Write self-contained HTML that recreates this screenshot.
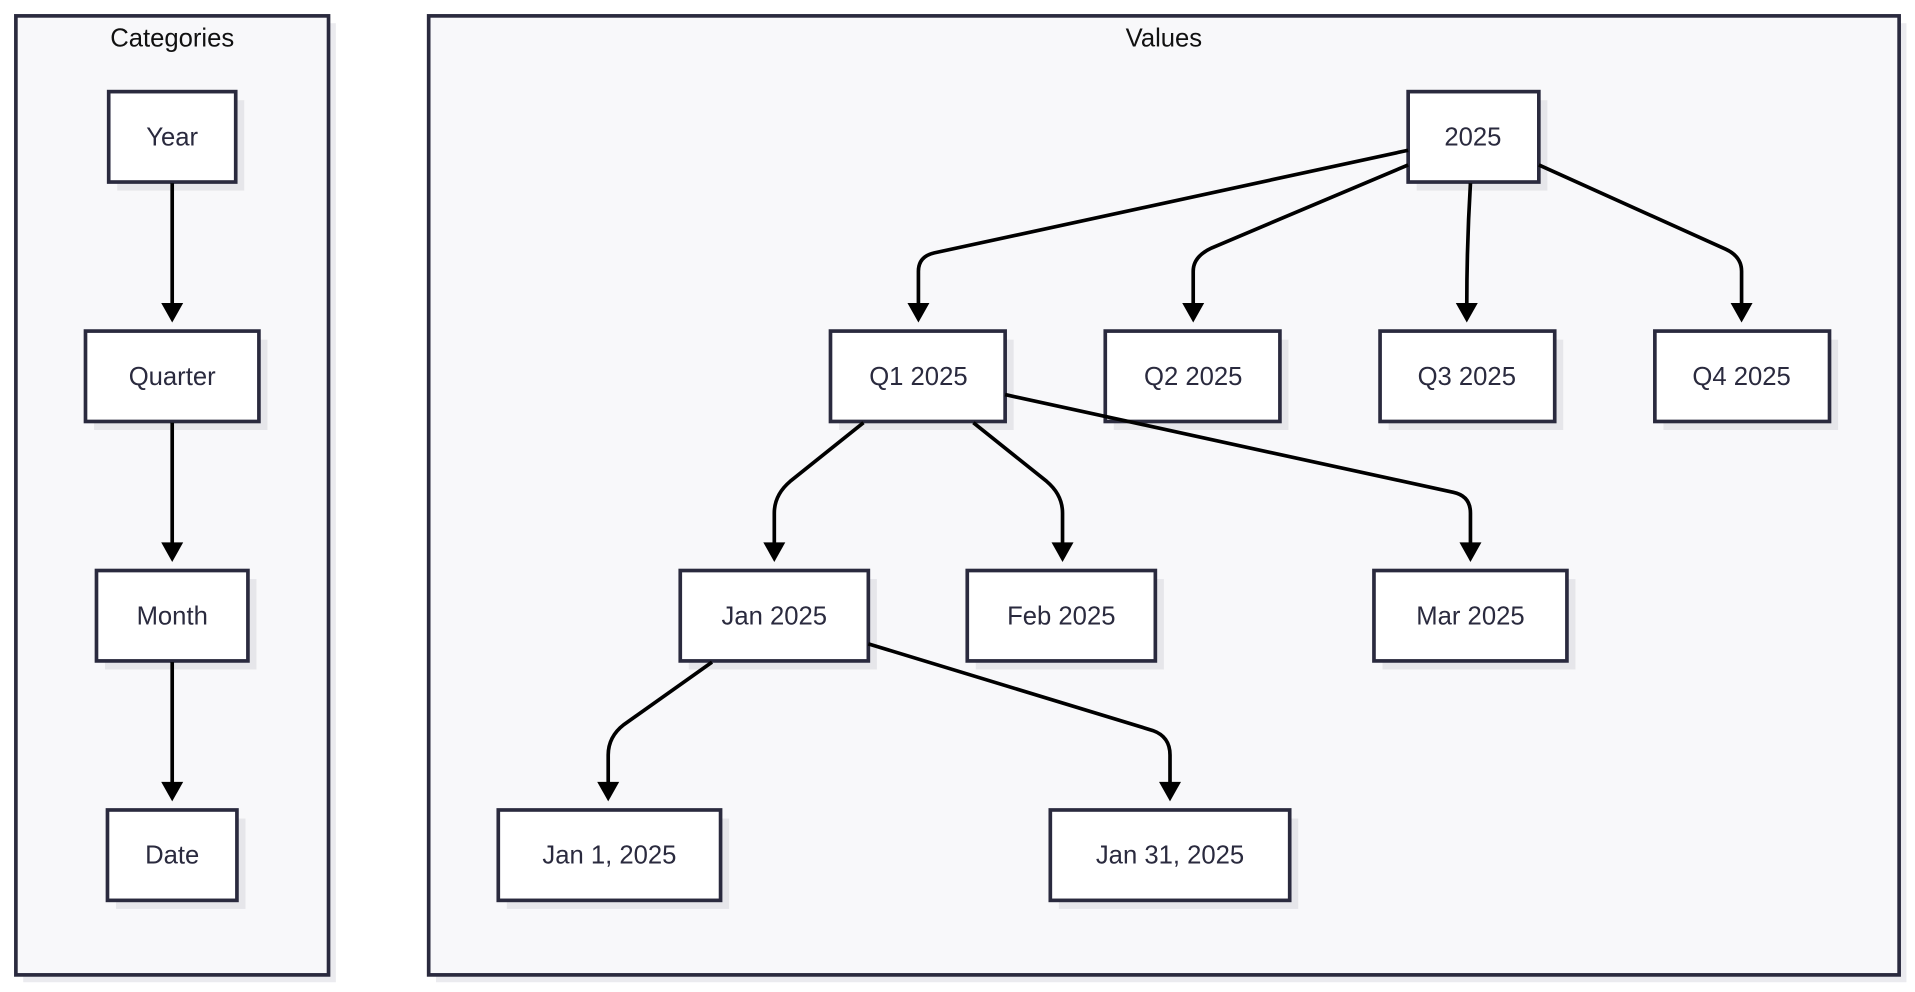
<!DOCTYPE html>
<html><head><meta charset="utf-8"><style>
html,body{margin:0;padding:0;background:#fff;}
svg{display:block;}
text{font-family:"Liberation Sans",sans-serif;}
</style></head><body>
<svg width="1915" height="992" viewBox="0 0 1568 812" preserveAspectRatio="none" xmlns="http://www.w3.org/2000/svg">
<rect x="19" y="19" width="256" height="785" fill="#ebebef"/>
<rect x="357" y="19" width="1204" height="785" fill="#ebebef"/>
<rect x="13" y="13" width="256" height="785" fill="#f8f8fa" stroke="#2a2a3e" stroke-width="3"/>
<rect x="351" y="13" width="1204" height="785" fill="#f8f8fa" stroke="#2a2a3e" stroke-width="3"/>
<text x="141" y="38" font-size="21" text-anchor="middle" fill="#111">Categories</text>
<text x="953" y="38" font-size="21" text-anchor="middle" fill="#111">Values</text>

<g fill="#e6e6ea">
<rect x="96" y="82" width="104" height="74"/>
<rect x="77" y="278" width="142" height="74"/>
<rect x="86" y="474" width="124" height="74"/>
<rect x="95" y="670" width="106" height="74"/>
<rect x="1160" y="82" width="107" height="74"/>
<rect x="687" y="278" width="143" height="74"/>
<rect x="912" y="278" width="143" height="74"/>
<rect x="1137" y="278" width="143" height="74"/>
<rect x="1362" y="278" width="143" height="74"/>
<rect x="564" y="474" width="154" height="74"/>
<rect x="799" y="474" width="154" height="74"/>
<rect x="1132" y="474" width="158" height="74"/>
<rect x="415" y="670" width="182" height="74"/>
<rect x="867" y="670" width="196" height="74"/>
</g>
<g fill="#fff" stroke="#2a2a3e" stroke-width="3">
<rect x="89" y="75" width="104" height="74"/>
<rect x="70" y="271" width="142" height="74"/>
<rect x="79" y="467" width="124" height="74"/>
<rect x="88" y="663" width="106" height="74"/>
<rect x="1153" y="75" width="107" height="74"/>
<rect x="680" y="271" width="143" height="74"/>
<rect x="905" y="271" width="143" height="74"/>
<rect x="1130" y="271" width="143" height="74"/>
<rect x="1355" y="271" width="143" height="74"/>
<rect x="557" y="467" width="154" height="74"/>
<rect x="792" y="467" width="154" height="74"/>
<rect x="1125" y="467" width="158" height="74"/>
<rect x="408" y="663" width="182" height="74"/>
<rect x="860" y="663" width="196" height="74"/>
</g>

<g fill="none" stroke="#000" stroke-width="3">
<path d="M141,150 L141,250"/>
<path d="M141,346 L141,446"/>
<path d="M141,542 L141,642"/>
<path d="M1153,123 L765,207 Q752,210 752,222 L752,250"/>
<path d="M1153,135 L992,203 Q977,210 977,222 L977,250"/>
<path d="M1204,150 Q1201,200 1201,250"/>
<path d="M1260,135 L1413,204 Q1426,210 1426,222 L1426,250"/>
<path d="M707,346 L647,394 Q634,405 634,420 L634,446"/>
<path d="M797,346 L857,394 Q870,405 870,420 L870,446"/>
<path d="M823,323 L1190,403 Q1204,406 1204,420 L1204,446"/>
<path d="M583,542 L511,593 Q498,603 498,618 L498,642"/>
<path d="M711,527 L944,598 Q958,603 958,618 L958,642"/>
</g>
<g fill="#000">
<polygon points="132,248 150,248 141,264"/>
<polygon points="132,444 150,444 141,460"/>
<polygon points="132,640 150,640 141,656"/>
<polygon points="743,248 761,248 752,264"/>
<polygon points="968,248 986,248 977,264"/>
<polygon points="1192,248 1210,248 1201,264"/>
<polygon points="1417,248 1435,248 1426,264"/>
<polygon points="625,444 643,444 634,460"/>
<polygon points="861,444 879,444 870,460"/>
<polygon points="1195,444 1213,444 1204,460"/>
<polygon points="489,640 507,640 498,656"/>
<polygon points="949,640 967,640 958,656"/>
</g>

<g fill="#2a2a3e" font-size="21" text-anchor="middle">
<text x="141" y="119">Year</text>
<text x="141" y="315">Quarter</text>
<text x="141" y="511">Month</text>
<text x="141" y="707">Date</text>
<text x="1206" y="119">2025</text>
<text x="752" y="315">Q1 2025</text>
<text x="977" y="315">Q2 2025</text>
<text x="1201" y="315">Q3 2025</text>
<text x="1426" y="315">Q4 2025</text>
<text x="634" y="511">Jan 2025</text>
<text x="869" y="511">Feb 2025</text>
<text x="1204" y="511">Mar 2025</text>
<text x="499" y="707">Jan 1, 2025</text>
<text x="958" y="707">Jan 31, 2025</text>
</g>
</svg>
</body></html>
